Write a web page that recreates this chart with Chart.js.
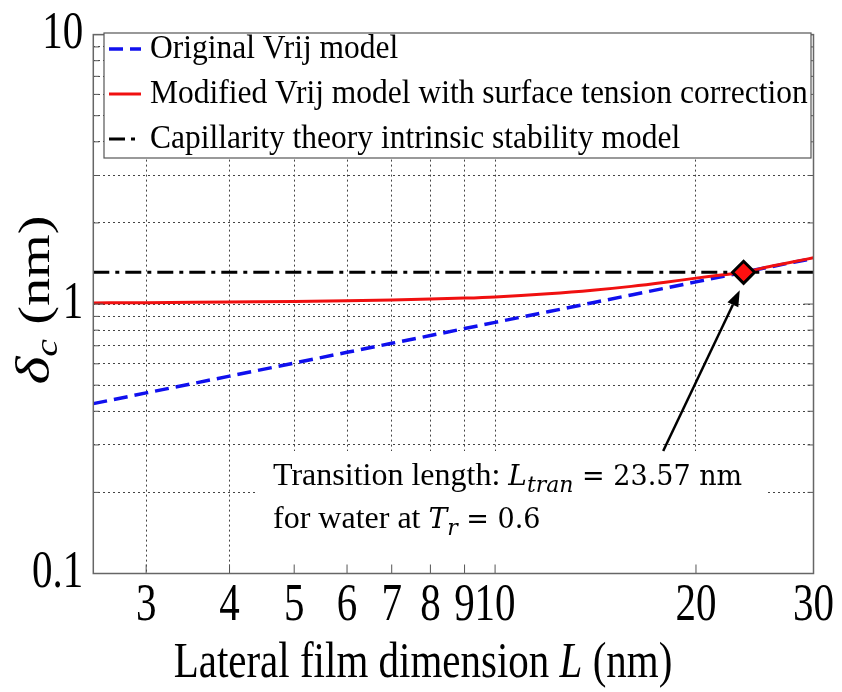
<!DOCTYPE html>
<html>
<head>
<meta charset="utf-8">
<script src="https://cdn.jsdelivr.net/npm/chart.js@4.4.1/dist/chart.umd.min.js"></script>
<style>
  html, body { margin: 0; padding: 0; background: #fff; }
  #wrap { width: 842px; height: 692px; }
</style>
</head>
<body>
<div id="wrap"><canvas id="c" width="842" height="692"></canvas></div>
<script>
// Lateral film dimension L (nm) at which the two Vrij curves are sampled
const lengthL = [2.5, 3, 4, 5, 6, 7, 8, 9, 10, 12, 14, 16, 18, 20, 22, 23.57, 26, 28, 30];
// Critical thickness delta_c (nm), original Vrij model
const originalVrij = [0.427, 0.468, 0.540, 0.604, 0.662, 0.715, 0.764, 0.811, 0.855, 0.936, 1.011, 1.081, 1.146, 1.209, 1.268, 1.312, 1.378, 1.430, 1.475];
// Critical thickness delta_c (nm), Vrij model with surface tension correction
const modifiedVrij = [1.010, 1.012, 1.018, 1.022, 1.028, 1.035, 1.043, 1.052, 1.063, 1.092, 1.125, 1.163, 1.205, 1.248, 1.285, 1.312, 1.385, 1.435, 1.485];
// Capillarity theory intrinsic stability limit (independent of L)
const capillarityL = [2.5, 30];
const capillarityDelta = [1.312, 1.312];
// Transition point for water at Tr = 0.6
const transitionL = [23.57];
const transitionDelta = [1.312];
// Annotation arrow, tail and head in data units (L, delta_c)
const arrowTail = [17.86, 0.285];
const arrowHead = [23.26, 1.125];

// Axis ticks
const xTickValues = [3, 4, 5, 6, 7, 8, 9, 10, 20, 30];
const yTickValues = [0.1, 0.2, 0.3, 0.4, 0.5, 0.6, 0.7, 0.8, 0.9, 1, 2, 3, 4, 5, 6, 7, 8, 9, 10];
const yLabelledTicks = [0.1, 1, 10];

const SERIF = '"Liberation Serif", "Times New Roman", serif';
const MATH = '"DejaVu Serif", serif';
const TALL = 1.28; // vertical stretch of the axis lettering

const toPoints = (xs, ys) => xs.map((v, i) => ({ x: v, y: ys[i] }));

// Draws a run of differently styled text pieces on one baseline
function drawRuns(ctx, runs, x, y, align) {
  let total = 0;
  runs.forEach(r => { ctx.font = r.font; r.w = ctx.measureText(r.t).width; total += r.w; });
  let cx = align === 'center' ? x - total / 2 : x;
  runs.forEach(r => { ctx.font = r.font; ctx.fillText(r.t, cx, y + (r.dy || 0)); cx += r.w; });
}

// Tick labels of a scale are drawn with tall, narrow lettering
function tallLabels(scale, sy) {
  if (scale._tallLabels) return;
  const orig = scale.drawLabels;
  scale.drawLabels = function (area) {
    const ctx = this.ctx;
    const fill = ctx.fillText;
    ctx.fillText = function (t, px, py, ...rest) {
      this.save();
      this.translate(px, py);
      this.scale(1, sy);
      fill.call(this, t, 0, 0, ...rest);
      this.restore();
    };
    try { orig.call(this, area); } finally { delete ctx.fillText; }
  };
  scale._tallLabels = true;
}

const decor = {
  id: 'decor',
  beforeDraw(chart) {
    tallLabels(chart.scales.x, TALL);
    tallLabels(chart.scales.y, TALL);
  },
  beforeDatasetsDraw(chart) {
    // white backing behind the transition annotation text
    const ctx = chart.ctx;
    ctx.save();
    ctx.fillStyle = '#fff';
    ctx.fillRect(258, 451, 508, 121);
    ctx.restore();
  },
  afterDatasetsDraw(chart) {
    const { ctx, chartArea: a, scales: { x, y } } = chart;
    ctx.save();
    ctx.setLineDash([]);

    // inward tick marks on all four sides
    ctx.strokeStyle = '#555';
    ctx.lineWidth = 1;
    ctx.beginPath();
    x.ticks.forEach(t => {
      const px = x.getPixelForValue(t.value);
      ctx.moveTo(px, a.bottom); ctx.lineTo(px, a.bottom - 9);
      ctx.moveTo(px, a.top); ctx.lineTo(px, a.top + 9);
    });
    y.ticks.forEach(t => {
      const py = y.getPixelForValue(t.value);
      const len = yLabelledTicks.includes(t.value) ? 10 : 6;
      ctx.moveTo(a.left, py); ctx.lineTo(a.left + len, py);
      ctx.moveTo(a.right, py); ctx.lineTo(a.right - len, py);
    });
    ctx.stroke();

    // axes frame
    ctx.strokeStyle = '#666';
    ctx.lineWidth = 1.5;
    ctx.strokeRect(a.left, a.top, a.width, a.height);

    // arrow pointing at the transition point
    const tx = x.getPixelForValue(arrowTail[0]), ty = y.getPixelForValue(arrowTail[1]);
    const hx = x.getPixelForValue(arrowHead[0]), hy = y.getPixelForValue(arrowHead[1]);
    const ang = Math.atan2(hy - ty, hx - tx);
    const headLen = 16, headHalf = 6;
    const bx = hx - headLen * Math.cos(ang), by = hy - headLen * Math.sin(ang);
    ctx.strokeStyle = '#000';
    ctx.fillStyle = '#000';
    ctx.lineWidth = 2.5;
    ctx.beginPath(); ctx.moveTo(tx, ty); ctx.lineTo(bx, by); ctx.stroke();
    ctx.beginPath();
    ctx.moveTo(hx, hy);
    ctx.lineTo(bx + headHalf * Math.sin(ang), by - headHalf * Math.cos(ang));
    ctx.lineTo(bx - headHalf * Math.sin(ang), by + headHalf * Math.cos(ang));
    ctx.closePath(); ctx.fill();

    // annotation text
    ctx.fillStyle = '#000';
    ctx.textBaseline = 'alphabetic';
    drawRuns(ctx, [
      { t: 'Transition length: ', font: `32px ${SERIF}` },
      { t: 'L', font: `italic 28px ${MATH}` },
      { t: 'tran', font: `italic 22px ${MATH}`, dy: 7 },
      { t: ' = 23.57 nm', font: `27px ${MATH}` }
    ], 273, 485, 'left');
    drawRuns(ctx, [
      { t: 'for water at ', font: `32px ${SERIF}` },
      { t: 'T', font: `italic 28px ${MATH}` },
      { t: 'r', font: `italic 22px ${MATH}`, dy: 7 },
      { t: ' = 0.6', font: `27px ${MATH}` }
    ], 273, 528, 'left');

    // legend box
    const lg = { left: 104, top: 33, right: 811, bottom: 158 };
    ctx.fillStyle = '#fff';
    ctx.fillRect(lg.left, lg.top, lg.right - lg.left, lg.bottom - lg.top);
    ctx.strokeStyle = '#555';
    ctx.lineWidth = 1.2;
    ctx.strokeRect(lg.left, lg.top, lg.right - lg.left, lg.bottom - lg.top);
    const entries = chart.data.datasets.filter(d => d.label);
    entries.forEach((d, i) => {
      const ry = 49 + i * 45;
      ctx.strokeStyle = d.borderColor;
      ctx.lineWidth = d.borderWidth;
      ctx.setLineDash(d.borderDash || []);
      ctx.beginPath(); ctx.moveTo(109, ry); ctx.lineTo(141, ry); ctx.stroke();
      ctx.setLineDash([]);
      ctx.fillStyle = '#000';
      ctx.font = `31.5px ${SERIF}`;
      ctx.textBaseline = 'middle';
      ctx.save();
      ctx.translate(150, ry);
      ctx.scale(1, 1.1);
      ctx.fillText(d.label, 0, 0);
      ctx.restore();
    });

    // axis titles
    ctx.textBaseline = 'alphabetic';
    ctx.fillStyle = '#000';
    ctx.save();
    ctx.translate(0, 677);
    ctx.scale(1, 1.22);
    drawRuns(ctx, [
      { t: 'Lateral film dimension ', font: `41px ${SERIF}` },
      { t: 'L', font: `italic 41px ${SERIF}` },
      { t: ' (nm)', font: `41px ${SERIF}` }
    ], 423, 0, 'center');
    ctx.restore();

    ctx.translate(49, 300);
    ctx.rotate(-Math.PI / 2);
    ctx.scale(1.25, 1);
    drawRuns(ctx, [
      { t: 'δ', font: `italic 48px ${SERIF}` },
      { t: 'c', font: `italic 32px ${SERIF}`, dy: 8 },
      { t: ' (nm)', font: `45px ${SERIF}` }
    ], 0, 0, 'center');
    ctx.restore();
  }
};

const tickFont = { family: SERIF, size: 41 };

new Chart(document.getElementById('c'), {
  type: 'line',
  data: {
    datasets: [
      {
        data: toPoints(transitionL, transitionDelta),
        showLine: false,
        pointStyle: 'rectRot',
        pointRadius: 11,
        pointBackgroundColor: '#ff1010',
        pointBorderColor: '#000',
        pointBorderWidth: 3,
        order: 0
      },
      {
        label: 'Original Vrij model',
        data: toPoints(lengthL, originalVrij),
        borderColor: '#1010ee',
        borderWidth: 3.5,
        borderDash: [14, 7],
        pointRadius: 0,
        tension: 0,
        order: 3
      },
      {
        label: 'Modified Vrij model with surface tension correction',
        data: toPoints(lengthL, modifiedVrij),
        borderColor: '#f01010',
        borderWidth: 3,
        pointRadius: 0,
        cubicInterpolationMode: 'monotone',
        order: 2
      },
      {
        label: 'Capillarity theory intrinsic stability model',
        data: toPoints(capillarityL, capillarityDelta),
        borderColor: '#000',
        borderWidth: 3,
        borderDash: [16, 6, 4, 6],
        pointRadius: 0,
        order: 1
      }
    ]
  },
  options: {
    responsive: false,
    animation: false,
    events: [],
    layout: { padding: { left: 0, top: 25, right: 28.5, bottom: 0 } },
    plugins: { legend: { display: false }, tooltip: { enabled: false } },
    scales: {
      x: {
        type: 'logarithmic',
        min: 2.5,
        max: 30,
        afterBuildTicks: s => { s.ticks = xTickValues.map(v => ({ value: v })); },
        afterFit: s => { s.height = 118.5; },
        ticks: {
          autoSkip: false,
          maxRotation: 0,
          padding: 8,
          color: '#000',
          font: tickFont,
          callback: v => String(v)
        },
        grid: { color: '#444', lineWidth: 1, drawTicks: false },
        border: { display: false, dash: [2, 3] }
      },
      y: {
        type: 'logarithmic',
        min: 0.1,
        max: 10,
        afterBuildTicks: s => { s.ticks = yTickValues.map(v => ({ value: v })); },
        afterFit: s => { s.width = 93.3; },
        ticks: {
          autoSkip: false,
          padding: 10,
          color: '#000',
          font: tickFont,
          callback: v => (yLabelledTicks.includes(v) ? String(v) : '')
        },
        grid: { color: '#444', lineWidth: 1, drawTicks: false },
        border: { display: false, dash: [2, 3] }
      }
    }
  },
  plugins: [decor]
});
</script>
</body>
</html>
